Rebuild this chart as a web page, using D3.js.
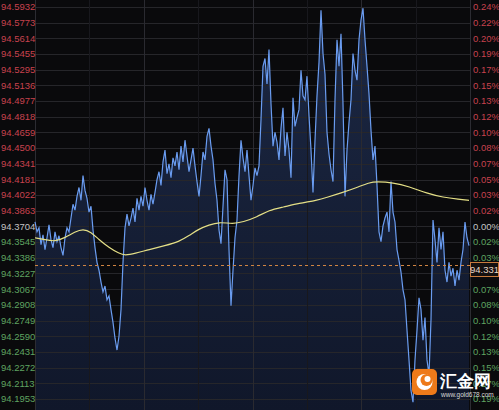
<!DOCTYPE html>
<html><head><meta charset="utf-8">
<script src="https://cdn.jsdelivr.net/npm/d3@7"></script>
<style>
html,body{margin:0;padding:0;background:#0a0a0c;}
svg{display:block;}
text{font-family:"Liberation Sans",Arial,sans-serif;}
</style></head>
<body>
<svg id="c" width="499" height="410"></svg>
<script>
// ---- data ----
const priceTicks = ["94.5932","94.5773","94.5614","94.5455","94.5295","94.5136","94.4977","94.4818","94.4659","94.4500","94.4341","94.4181","94.4022","94.3863","94.3704","94.3545","94.3386","94.3227","94.3067","94.2908","94.2749","94.2590","94.2431","94.2272","94.2113","94.1953"];
const pctTicks = ["0.24%","0.22%","0.20%","0.19%","0.17%","0.15%","0.13%","0.12%","0.10%","0.08%","0.07%","0.05%","0.03%","0.02%","0.00%","0.02%","0.03%","0.05%","0.07%","0.08%","0.10%","0.12%","0.13%","0.15%","0.17%","0.19%"];
const basePrice = 94.3704;
const lastPrice = 94.331;
const prices = [94.375,94.365,94.369,94.352,94.362,94.347,94.359,94.372,94.357,94.349,94.365,94.355,94.361,94.349,94.341,94.359,94.369,94.365,94.379,94.393,
94.387,94.401,94.410,94.397,94.422,94.407,94.399,94.385,94.391,94.367,94.349,94.334,94.326,94.314,94.304,94.310,94.296,94.300,94.286,94.273,
94.257,94.245,94.259,94.286,94.334,94.369,94.383,94.371,94.379,94.389,94.375,94.399,94.387,94.401,94.391,94.410,94.397,94.387,94.403,94.393,
94.405,94.418,94.426,94.412,94.436,94.448,94.424,94.434,94.420,94.440,94.432,94.446,94.428,94.452,94.436,94.458,94.442,94.426,94.438,94.450,
94.432,94.416,94.401,94.422,94.446,94.438,94.462,94.470,94.452,94.438,94.414,94.397,94.367,94.353,94.391,94.428,94.418,94.347,94.290,94.326,
94.359,94.377,94.422,94.458,94.440,94.426,94.448,94.422,94.397,94.412,94.430,94.422,94.432,94.479,94.533,94.541,94.515,94.550,94.495,94.452,
94.466,94.456,94.438,94.470,94.491,94.442,94.466,94.448,94.420,94.501,94.472,94.481,94.489,94.529,94.503,94.499,94.523,94.483,94.448,94.405,
94.458,94.503,94.537,94.590,94.546,94.525,94.466,94.444,94.428,94.416,94.499,94.560,94.533,94.566,94.495,94.401,94.448,94.476,94.499,94.546,
94.529,94.519,94.560,94.580,94.592,94.560,94.533,94.505,94.468,94.438,94.452,94.412,94.365,94.355,94.371,94.379,94.385,94.365,94.416,94.385,
94.375,94.347,94.336,94.324,94.306,94.296,94.265,94.235,94.204,94.192,94.235,94.265,94.298,94.286,94.255,94.278,94.235,94.220,94.276,94.377,
94.357,94.334,94.369,94.347,94.365,94.326,94.314,94.334,94.320,94.328,94.310,94.326,94.316,94.334,94.347,94.375,94.359,94.351];
const maIndex = [0,5,10,15,20,24,28,32,37,42,45,50,57,65,72,77,82,87,92,99,104,111,117,124,132,141,146,154,161,167,171,179,187,196,204,212,217];
const maValues = [94.359,94.357,94.355,94.359,94.365,94.368,94.365,94.357,94.349,94.343,94.341,94.343,94.347,94.351,94.355,94.361,94.368,94.372,94.375,94.373,94.375,94.380,94.387,94.390,94.394,94.397,94.400,94.405,94.410,94.415,94.416,94.415,94.411,94.404,94.400,94.398,94.397];

// ---- layout ----
const svg = d3.select("#c");
const W = 499, H = 410;
const plotL = 35, plotR = 470;
const plotT = 7, plotB = 399;

const y = d3.scaleLinear().domain([+priceTicks[priceTicks.length-1], +priceTicks[0]]).range([plotB, plotT]);
const x = d3.scaleLinear().domain([0, prices.length - 1]).range([plotL, 469]);

svg.append("rect").attr("width", W).attr("height", H).attr("fill", "#0a0a0c");

const defs = svg.append("defs");
const g1 = defs.append("linearGradient").attr("id","ag").attr("gradientUnits","userSpaceOnUse")
  .attr("x1",0).attr("y1",0).attr("x2",0).attr("y2",H);
g1.append("stop").attr("offset","0").attr("stop-color","#1c2844");
g1.append("stop").attr("offset","1").attr("stop-color","#10172a");

// area
svg.append("path").datum(prices)
  .attr("d", d3.area().x((d,i)=>x(i)).y0(H).y1(d=>y(d)))
  .attr("fill","url(#ag)");

// horizontal grid
const tickY = (i) => y(+priceTicks[i]);
svg.append("g").selectAll("line").data(priceTicks).join("line")
  .attr("x1", plotL).attr("x2", plotR)
  .attr("y1", (d,i)=>Math.round(tickY(i))+0.5).attr("y2", (d,i)=>Math.round(tickY(i))+0.5)
  .attr("stroke", "#26262a").attr("stroke-width", 1);

// vertical grid
const vx = d3.range(1, 8).map(k => plotL + (plotR - plotL) * k / 8);
svg.append("g").selectAll("line").data(vx).join("line")
  .attr("x1", d=>Math.round(d)+0.5).attr("x2", d=>Math.round(d)+0.5)
  .attr("y1", 0).attr("y2", H)
  .attr("stroke", (d,i)=> (i % 2 === 1) ? "#2a2a30" : "#18181d").attr("stroke-width", 1);

// borders
svg.append("line").attr("x1", plotL+0.5).attr("x2", plotL+0.5).attr("y1",0).attr("y2",H).attr("stroke","#2c2c32");
svg.append("line").attr("x1", plotR+0.5).attr("x2", plotR+0.5).attr("y1",0).attr("y2",H).attr("stroke","#2c2c32");

// price line
svg.append("path").datum(prices)
  .attr("d", d3.line().x((d,i)=>x(i)).y(d=>y(d)))
  .attr("fill","none").attr("stroke","#6a9cf0").attr("stroke-width",1.2);

// moving average
svg.append("path").datum(maIndex.map((d,i)=>[d, maValues[i]]))
  .attr("d", d3.line().x(d=>x(d[0])).y(d=>y(d[1])).curve(d3.curveBasis))
  .attr("fill","none").attr("stroke","#e4df86").attr("stroke-width",1.2);

// last price dashed
svg.append("line").attr("x1", plotL).attr("x2", plotR)
  .attr("y1", Math.round(y(lastPrice))+0.5).attr("y2", Math.round(y(lastPrice))+0.5)
  .attr("stroke","#d08442").attr("stroke-dasharray","3,3").attr("stroke-width",1);

// axis labels
const colorFor = (i) => {
  const v = +priceTicks[i];
  if (Math.abs(v - basePrice) < 1e-6) return "#c4c4c4";
  return v > basePrice ? "#c8424e" : "#5fa461";
};
svg.append("g").selectAll("text").data(priceTicks).join("text")
  .attr("x", 1).attr("y", (d,i)=>tickY(i)).attr("dy","0.35em")
  .attr("font-size", 9.5).attr("fill", (d,i)=>colorFor(i)).text(d=>d);
svg.append("g").selectAll("text").data(pctTicks).join("text")
  .attr("x", 473).attr("y", (d,i)=>tickY(i)).attr("dy","0.35em")
  .attr("font-size", 9.5).attr("fill", (d,i)=>colorFor(i)).text(d=>d);

// last price box
const ly = y(lastPrice);
svg.append("rect").attr("x", 470.5).attr("y", Math.round(ly)-2.5).attr("width", 28).attr("height", 14)
  .attr("fill","#141010").attr("stroke","#c87a3c");
svg.append("text").attr("x", 484.5).attr("y", Math.round(ly)+5).attr("dy","0.35em").attr("text-anchor","middle")
  .attr("font-size", 9.5).attr("fill","#e8d8c8").text(lastPrice.toFixed(3));

// watermark
const wm = svg.append("g");
wm.append("rect").attr("x",412).attr("y",369).attr("width",25).attr("height",26).attr("rx",5).attr("fill","#ee7a1a");
wm.append("circle").attr("cx",424.5).attr("cy",382).attr("r",8).attr("fill","#ffffff");
wm.append("circle").attr("cx",426.5).attr("cy",380).attr("r",6).attr("fill","#ee7a1a");
wm.append("circle").attr("cx",427.5).attr("cy",379).attr("r",3).attr("fill","#ffffff");
wm.append("text").attr("x",440).attr("y",387).attr("font-size",16.5).attr("font-weight","bold")
  .attr("font-family","'Noto Sans CJK SC',sans-serif").attr("fill","#ffffff").text("汇金网");
wm.append("text").attr("x",441).attr("y",397).attr("font-size",6.5).attr("fill","#d8d8d8").text("www.gold678.com");
</script>
</body></html>
